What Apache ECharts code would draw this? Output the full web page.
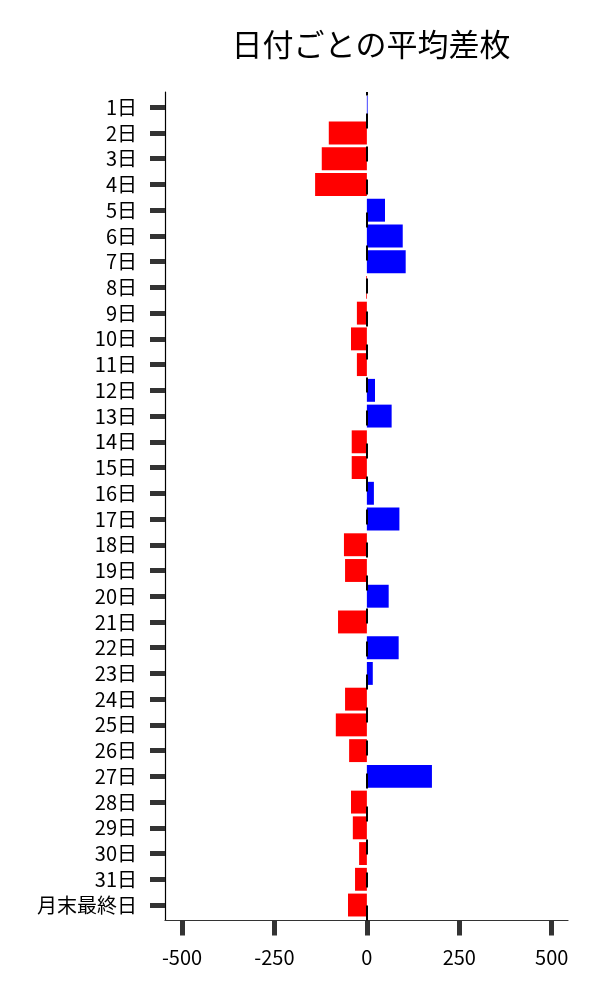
<!DOCTYPE html>
<html><head><meta charset="utf-8">
<script src="https://cdn.jsdelivr.net/npm/echarts@6/dist/echarts.min.js"></script>
<style>html,body{margin:0;padding:0;background:#fff}#c{width:600px;height:1000px}</style>
</head><body><div id="c"></div>
<script>
const titleText = '日付ごとの平均差枚';
const categories = ['1日','2日','3日','4日','5日','6日','7日','8日','9日','10日','11日','12日','13日','14日','15日','16日','17日','18日','19日','20日','21日','22日','23日','24日','25日','26日','27日','28日','29日','30日','31日','月末最終日'];
const values = [2,-103,-122,-140,49,97,105,-2,-27,-43,-27,22,67,-41,-41,19,88,-62,-59,59,-78,86,16,-59,-84,-48,176,-43,-38,-21,-32,-51];
const xTicks = [-500,-250,0,250,500];
const xMin = -546, xMax = 544;
const FONT = '"Noto Sans CJK JP", "Noto Sans", sans-serif';

const chart = echarts.init(document.getElementById('c'), null, {renderer:'canvas'});
chart.setOption({
  animation:false,
  backgroundColor:'#fff',
  title:{text:titleText,left:366,top:24,textAlign:'center',textStyle:{fontFamily:FONT,fontSize:31,fontWeight:'normal',color:'#000'}},
  grid:[
    {left:165,right:32,top:92,bottom:79.5,containLabel:false},
    {left:165,right:32,top:94.4,bottom:82.1,containLabel:false}
  ],
  xAxis:[
    {gridIndex:0,type:'value',min:xMin,max:xMax,
     axisLine:{show:true,onZero:false,lineStyle:{color:'#333',width:1.2}},
     axisTick:{show:true,length:15,lineStyle:{color:'#333',width:5},customValues:xTicks},
     axisLabel:{customValues:xTicks,margin:27,fontFamily:FONT,fontSize:20,color:'#000'},
     splitLine:{show:false}},
    {gridIndex:1,type:'value',min:xMin,max:xMax,show:false}
  ],
  yAxis:[
    {gridIndex:0,type:'value',min:0,max:1,
     axisLine:{show:true,onZero:false,lineStyle:{color:'#000',width:1.2}},
     axisTick:{show:false},axisLabel:{show:false},splitLine:{show:false}},
    {gridIndex:1,type:'category',data:categories,inverse:true,
     axisLine:{show:false,onZero:false},
     axisTick:{show:true,interval:0,alignWithLabel:true,length:15,lineStyle:{color:'#333',width:5}},
     axisLabel:{interval:0,margin:28,fontFamily:FONT,fontSize:20,color:'#000'}}
  ],
  series:[
    {type:'line',xAxisIndex:0,yAxisIndex:0,data:[],z:1,silent:true,
     markLine:{silent:true,symbol:'none',label:{show:false},
       lineStyle:{color:'#000',width:2,type:[15,18]},
       data:[{xAxis:0}]}},
    {type:'bar',xAxisIndex:1,yAxisIndex:1,z:3,barCategoryGap:'11%',data:values,
     itemStyle:{color:p=>p.value>=0?'#0000ff':'#ff0000'}}
  ]
});
</script></body></html>
